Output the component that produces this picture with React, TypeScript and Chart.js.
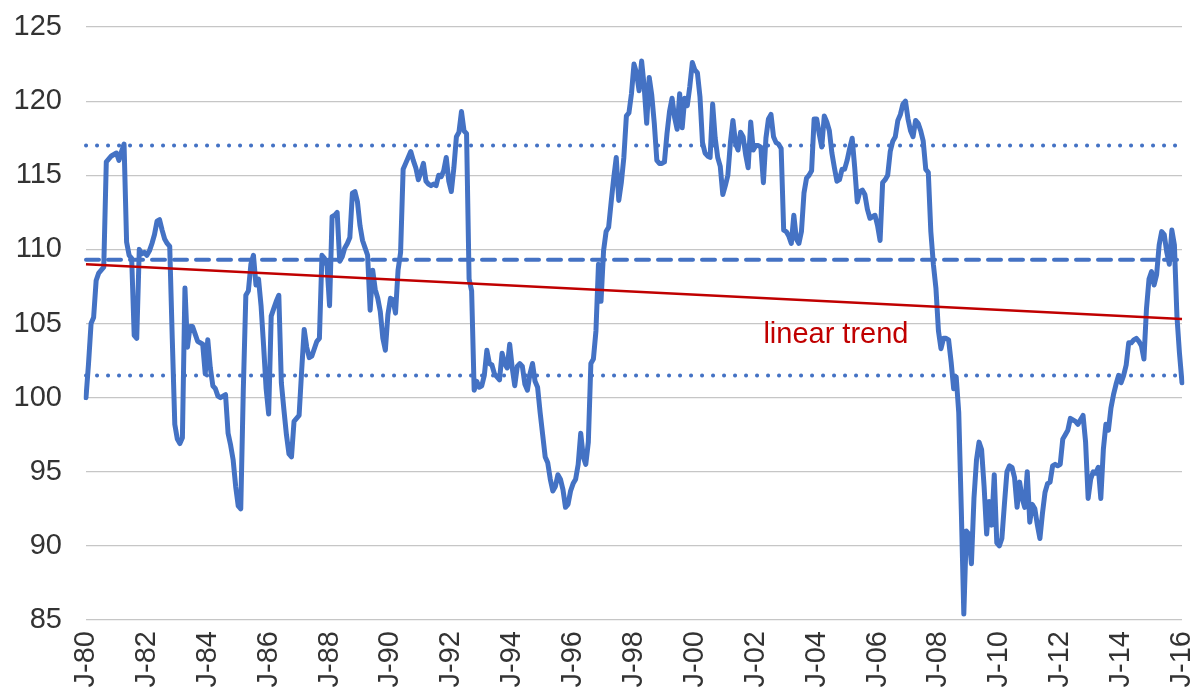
import React, { useEffect, useRef } from "react";
import { Chart, registerables } from "chart.js";

Chart.register(...registerables);

const START_YEAR = 1980;
const MONTH_ABBR = ["Jan", "Feb", "Mar", "Apr", "May", "Jun", "Jul", "Aug", "Sep", "Oct", "Nov", "Dec"];

// Tick labels shown every 24 months
const TICK_LABELS = [
  "J-80", "J-82", "J-84", "J-86", "J-88", "J-90", "J-92", "J-94", "J-96", "J-98",
  "J-00", "J-02", "J-04", "J-06", "J-08", "J-10", "J-12", "J-14", "J-16",
];

// Monthly index values
const VALUES_1980S = [
  100.0, 102.3, 105.0, 105.4, 107.9, 108.4, 108.6, 108.8, 115.9, 116.1, 116.3, 116.4,
  116.5, 116.0, 116.6, 117.1, 110.5, 109.6, 109.4, 104.2, 104.0, 110.0, 109.7, 109.8,
  109.6, 109.9, 110.4, 111.0, 111.9, 112.0, 111.3, 110.7, 110.4, 110.2, 104.0, 98.2,
  97.2, 96.9, 97.3, 107.4, 103.4, 104.8, 104.8, 104.3, 103.8, 103.7, 103.6, 101.6,
  103.9, 102.0, 100.8, 100.6, 100.1, 100.0, 100.1, 100.2, 97.6, 96.8, 95.8, 94.0,
  92.7, 92.5, 100.5, 106.9, 107.2, 109.0, 109.6, 107.6, 108.0, 106.2, 103.5, 100.6,
  98.9, 105.5, 106.0, 106.5, 106.9, 101.0, 99.2, 97.5, 96.2, 96.0, 98.4, 98.6,
  98.8, 101.8, 104.6, 103.4, 102.7, 102.8, 103.3, 103.8, 104.0, 109.6, 109.4, 108.9,
  106.2, 112.2, 112.3, 112.5, 109.2, 109.5, 110.1, 110.4, 110.8, 113.8, 113.9, 113.2,
  111.6, 110.6, 110.1, 109.6, 105.9, 108.6, 107.3, 106.7, 105.8, 104.0, 103.2, 105.6,
];
const VALUES_1990S = [
  106.7, 106.6, 105.7, 108.6, 109.8, 115.4, 115.8, 116.2, 116.6, 116.0, 115.5, 114.7,
  115.2, 115.8, 114.6, 114.4, 114.3, 114.4, 114.3, 115.0, 114.9, 115.3, 116.2, 114.6,
  113.9, 115.5, 117.6, 117.9, 119.3, 118.0, 117.8, 108.0, 107.2, 100.5, 101.1, 100.7,
  100.8, 101.5, 103.2, 102.3, 102.2, 101.6, 101.4, 101.2, 103.0, 102.3, 102.0, 103.6,
  102.0, 100.8, 102.1, 102.3, 102.1, 100.9, 100.5, 101.6, 102.3, 101.1, 100.7, 99.0,
  97.5, 96.0, 95.6, 94.5, 93.7, 94.0, 94.8, 94.5, 93.8, 92.6, 92.8, 93.7,
  94.2, 94.5, 95.5, 97.6, 96.0, 95.5, 97.0, 102.3, 102.6, 104.5, 109.0, 106.5,
  109.9, 111.2, 111.5, 113.2, 114.8, 116.2, 113.3, 114.5, 116.2, 119.0, 119.2, 120.5,
  122.5, 121.9, 120.7, 122.7, 121.0, 118.5, 121.6, 120.4, 118.5, 116.0, 115.8, 115.8,
  115.9, 117.8, 119.3, 120.2, 118.9, 118.1, 120.5, 118.2, 120.2, 119.7, 121.0, 122.6,
];
const VALUES_2000S = [
  122.1, 121.9, 120.3, 117.2, 116.5, 116.3, 116.2, 119.8, 117.5, 116.2, 115.6, 113.7,
  114.3, 115.0, 117.2, 118.7, 117.2, 116.7, 117.9, 117.6, 116.4, 115.5, 118.6, 116.7,
  117.0, 117.0, 116.9, 114.5, 117.5, 118.8, 119.1, 117.6, 117.2, 117.1, 116.8, 111.3,
  111.2, 110.9, 110.4, 112.3, 110.7, 110.4, 111.2, 113.8, 114.8, 115.0, 115.3, 118.8,
  118.8, 117.8, 116.9, 119.0, 118.6, 118.0, 116.5, 115.5, 114.6, 114.7, 115.4, 115.4,
  116.0, 116.8, 117.5, 115.5, 113.2, 113.9, 114.0, 113.7, 112.7, 112.1, 112.2, 112.3,
  111.6, 110.6, 114.5, 114.7, 115.0, 116.6, 117.3, 117.6, 118.7, 119.1, 119.8, 120.0,
  118.8, 118.0, 117.6, 118.7, 118.5, 118.0, 117.3, 115.4, 115.2, 111.2, 109.0, 107.4,
  104.5, 103.3, 104.0, 104.0, 103.9, 102.4, 100.6, 101.4, 99.0, 92.5, 85.4, 91.0,
  90.8, 88.8, 93.2, 95.8, 97.0, 96.5, 94.0, 90.8, 93.0, 91.4, 94.8, 90.2,
];
const VALUES_2010S = [
  90.0, 90.5, 92.8, 95.0, 95.4, 95.3, 94.6, 92.6, 94.3, 93.2, 92.6, 95.0,
  91.6, 92.8, 92.5, 91.4, 90.5, 92.2, 93.6, 94.2, 94.3, 95.4, 95.5, 95.4,
  95.5, 97.2, 97.5, 97.8, 98.6, 98.5, 98.4, 98.2, 98.5, 98.8, 97.0, 93.2,
  94.5, 95.0, 94.9, 95.3, 93.2, 96.5, 98.2, 97.8, 99.3, 100.2, 100.9, 101.5,
  101.0, 101.5, 102.2, 103.7, 103.7, 103.9, 104.0, 103.8, 103.5, 102.6, 106.0, 108.0,
  108.5, 107.6, 108.3, 110.3, 111.2, 111.0, 109.8, 109.0, 111.3, 110.3, 105.5, 103.0,
  101.0,
];

const MEAN_LEVEL = 109.3;
const UPPER_BAND = 117.0;
const LOWER_BAND = 101.5;
const TREND_START = 109.0;
const TREND_END = 105.3;

const TREND_LABEL = "linear trend";
const TREND_LABEL_AT = "Apr-02";
const TREND_LABEL_VALUE = 103.7;

const VALUES = [...VALUES_1980S, ...VALUES_1990S, ...VALUES_2000S, ...VALUES_2010S];
const CATEGORIES: string[] = VALUES.map((_, i) => {
  const y = START_YEAR + Math.floor(i / 12);
  return `${MONTH_ABBR[i % 12]}-${String(y % 100).padStart(2, "0")}`;
});
const FIRST = CATEGORIES[0];
const LAST = CATEGORIES[CATEGORIES.length - 1];

const BLUE = "#4472C4";
const RED = "#C00000";
const FONT = "'Liberation Sans', Arial, sans-serif";
const FONT_SIZE = 29;

const trendLabelPlugin = {
  id: "trendLabel",
  afterDatasetsDraw(chart: any) {
    const { ctx, scales } = chart;
    const x = scales.x.getPixelForValue(CATEGORIES.indexOf(TREND_LABEL_AT));
    const y = scales.y.getPixelForValue(TREND_LABEL_VALUE);
    ctx.save();
    ctx.font = `${FONT_SIZE}px ${FONT}`;
    ctx.fillStyle = RED;
    ctx.textAlign = "left";
    ctx.textBaseline = "alphabetic";
    ctx.fillText(TREND_LABEL, x, y);
    ctx.restore();
  },
};

export default function App() {
  const canvasRef = useRef<HTMLCanvasElement | null>(null);

  useEffect(() => {
    if (!canvasRef.current) return;
    const chart = new Chart(canvasRef.current, {
      type: "line",
      data: {
        labels: CATEGORIES,
        datasets: [
          {
            label: "index",
            data: VALUES,
            borderColor: BLUE,
            borderWidth: 5,
            pointRadius: 0,
            tension: 0,
            borderJoinStyle: "round",
            borderCapStyle: "round",
            order: 3,
          },
          {
            label: "mean",
            data: [{ x: FIRST, y: MEAN_LEVEL }, { x: LAST, y: MEAN_LEVEL }],
            borderColor: BLUE,
            borderWidth: 4,
            borderDash: [13, 9],
            borderCapStyle: "round",
            pointRadius: 0,
            order: 2,
          },
          {
            label: "upper",
            data: [{ x: FIRST, y: UPPER_BAND }, { x: LAST, y: UPPER_BAND }],
            borderColor: BLUE,
            borderWidth: 4,
            borderDash: [0.1, 10.9],
            borderCapStyle: "round",
            pointRadius: 0,
            order: 2,
          },
          {
            label: "lower",
            data: [{ x: FIRST, y: LOWER_BAND }, { x: LAST, y: LOWER_BAND }],
            borderColor: BLUE,
            borderWidth: 4,
            borderDash: [0.1, 10.9],
            borderCapStyle: "round",
            pointRadius: 0,
            order: 2,
          },
          {
            label: "trend",
            data: [{ x: FIRST, y: TREND_START }, { x: LAST, y: TREND_END }],
            borderColor: RED,
            borderWidth: 2.5,
            pointRadius: 0,
            order: 1,
          },
        ],
      },
      options: {
        animation: false,
        responsive: true,
        maintainAspectRatio: false,
        layout: { padding: { top: 27, right: 12, left: 0, bottom: 0 } },
        plugins: { legend: { display: false }, tooltip: { enabled: false } },
        scales: {
          x: {
            type: "category",
            offset: false,
            grid: { display: false, drawTicks: false },
            border: { display: false },
            ticks: {
              autoSkip: false,
              maxRotation: 90,
              minRotation: 90,
              padding: 11,
              color: "#333333",
              font: { family: FONT, size: FONT_SIZE },
              callback: (_v: any, i: number) => (i % 24 === 0 ? TICK_LABELS[i / 24] : ""),
            },
            afterFit: (s: any) => {
              s.height = 79;
              s.paddingLeft = 0;
              s.paddingRight = 0;
            },
          },
          y: {
            min: 85,
            max: 125,
            grid: { color: "#c6c6c6", lineWidth: 1.2, drawTicks: false },
            border: { display: false },
            ticks: {
              stepSize: 5,
              padding: 24,
              color: "#333333",
              font: { family: FONT, size: FONT_SIZE },
            },
            afterFit: (s: any) => {
              s.width = 86;
              s.paddingTop = 0;
              s.paddingBottom = 0;
            },
          },
        },
      },
      plugins: [trendLabelPlugin],
    });
    return () => chart.destroy();
  }, []);

  return (
    <div style={{ position: "fixed", left: 0, top: 0, width: 1194, height: 699, background: "#fff" }}>
      <canvas ref={canvasRef} />
    </div>
  );
}
